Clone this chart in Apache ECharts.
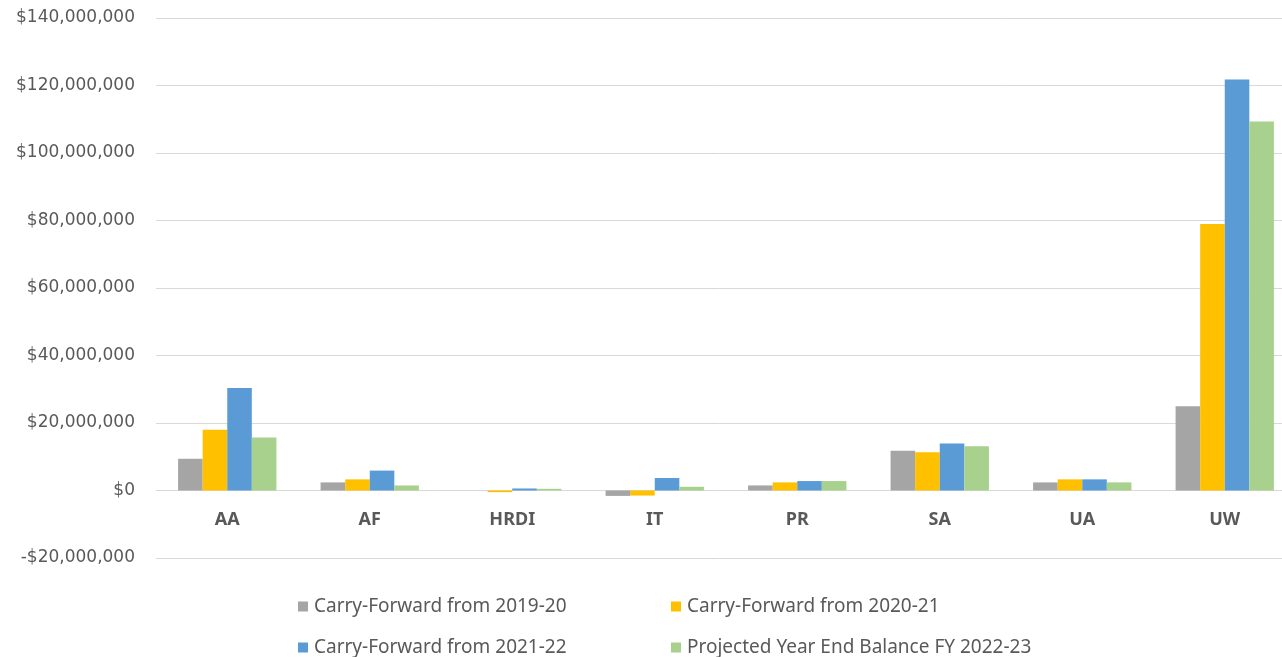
<!DOCTYPE html>
<html><head><meta charset="utf-8">
<script src="https://cdn.jsdelivr.net/npm/echarts@6/dist/echarts.min.js"></script>
<style>html,body{margin:0;padding:0;background:#fff;overflow:hidden}#c{width:1282px;height:657px}</style>
</head><body><div id="c"></div>
<script>
const categories = ['AA','AF','HRDI','IT','PR','SA','UA','UW'];
const seriesNames = ['Carry-Forward from 2019-20','Carry-Forward from 2020-21','Carry-Forward from 2021-22','Projected Year End Balance FY 2022-23'];
const cf2019 = [9400000, 2400000, 0, -1600000, 1500000, 11800000, 2400000, 25000000];
const cf2020 = [18000000, 3300000, -500000, -1500000, 2400000, 11300000, 3300000, 79000000];
const cf2021 = [30400000, 5900000, 600000, 3700000, 2800000, 13900000, 3300000, 121800000];
const proj2022 = [15700000, 1500000, 500000, 1100000, 2800000, 13100000, 2400000, 109300000];
const colors = ['#A5A5A5','#FFC000','#5B9BD5','#A9D18E'];
const allData = [cf2019, cf2020, cf2021, proj2022];

function fmt(v){
  const s = Math.abs(v).toLocaleString('en-US');
  return (v<0?'-$':'$') + s;
}
const axisFont = 'DejaVu Sans';
const legFont = "Noto Sans";
const chart = echarts.init(document.getElementById('c'));
const legendPos = [[293,592],[666,592],[293,633],[666,633]];
chart.setOption({
  animation:false,
  color: colors,
  grid:{left:156,width:1140,top:18,bottom:99,outerBoundsMode:'none'},
  legend: seriesNames.map((n,i)=>({
    data:[n], left:legendPos[i][0], top:legendPos[i][1],
    itemWidth:10, itemHeight:10, itemGap:4, icon:'rect',
    textStyle:{color:'#595959', fontSize:19, fontFamily:legFont, padding:[0,0,0,1]}
  })),
  xAxis:{
    type:'category', data:categories,
    axisLine:{lineStyle:{color:'#D9D9D9', width:1}},
    axisTick:{show:false},
    axisLabel:{color:'#595959', fontSize:18, fontWeight:'bold', fontFamily:'Noto Sans', margin:-47}
  },
  yAxis:{
    type:'value', min:-20000000, max:140000000, interval:20000000,
    axisLine:{show:false}, axisTick:{show:false},
    splitLine:{lineStyle:{color:'#D9D9D9'}},
    axisLabel:{color:'#595959', fontSize:17, fontFamily:axisFont, formatter:fmt, margin:21}
  },
  series: seriesNames.map((n,i)=>({
    name:n, type:'bar', data:allData[i],
    barGap:'0%', barCategoryGap:'31%',
    itemStyle:{color:colors[i]}
  }))
});
</script></body></html>
